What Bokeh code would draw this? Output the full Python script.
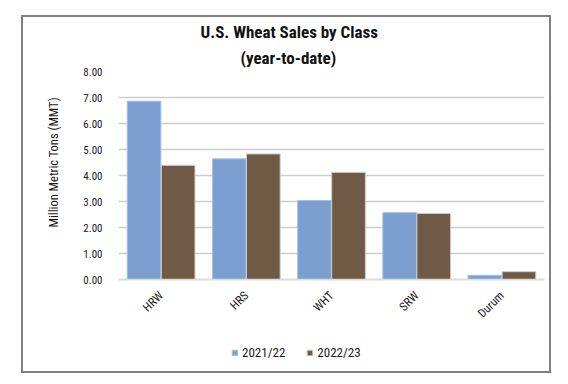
import math
from bokeh.plotting import figure
from bokeh.models import (ColumnDataSource, FactorRange, Legend, LegendItem,
                          FixedTicker, NumeralTickFormatter, Title, Range1d)
from bokeh.transform import dodge
from bokeh.embed import file_html
from bokeh.resources import INLINE

categories = ["HRW", "HRS", "WHT", "SRW", "Durum"]
sales_2021_22 = [6.86, 4.64, 3.04, 2.57, 0.16]
sales_2022_23 = [4.39, 4.83, 4.12, 2.54, 0.30]
series_names = ["2021/22", "2022/23"]
y_ticks = [0, 1, 2, 3, 4, 5, 6, 7, 8]
title_lines = ["U.S. Wheat Sales by Class", "(year-to-date)"]
y_label = "Million Metric Tons (MMT)"

FONT = "'Roboto Condensed', 'Liberation Sans Narrow', 'DejaVu Sans Condensed', Roboto, sans-serif"
BLUE = "#7a9fd0"
BROWN = "#6e5a45"
TXT = "#1a1a1a"

source = ColumnDataSource(dict(cat=categories, a=sales_2021_22, b=sales_2022_23))

# frame extends below zero so the category labels and legend sit inside it
p = figure(width=530, height=358, x_range=FactorRange(*categories, range_padding=0),
           y_range=Range1d(-3.615, 8), output_backend="svg", toolbar_location=None,
           min_border_left=95, min_border_right=9, min_border_top=54,
           min_border_bottom=2, title=None)
p.margin = (15, 0, 0, 21)
p.styles = {"border": "2px solid #808080"}
p.outline_line_color = None
p.background_fill_color = "white"
p.border_fill_color = "white"

r1 = p.vbar(x=dodge("cat", -0.2, range=p.x_range), top="a", width=0.395, source=source,
            fill_color=BLUE, line_color="#a8c0e2", line_width=1)
r2 = p.vbar(x=dodge("cat", 0.2, range=p.x_range), top="b", width=0.395, source=source,
            fill_color=BROWN, line_color="#cfcac4", line_width=1)

p.yaxis.ticker = FixedTicker(ticks=y_ticks)
p.yaxis.formatter = NumeralTickFormatter(format="0.00")
p.yaxis.axis_line_color = None
p.yaxis.major_tick_line_color = None
p.yaxis.minor_tick_line_color = None
p.yaxis.major_label_standoff = 10
p.yaxis.major_label_text_font = FONT
p.yaxis.major_label_text_font_size = "11px"
p.yaxis.major_label_text_color = TXT

p.xaxis.fixed_location = 0
p.xaxis.axis_line_color = "#dcdcdc"
p.xaxis.axis_line_width = 1.5
p.xaxis.major_tick_line_color = None
p.xaxis.minor_tick_line_color = None
p.xaxis.major_label_orientation = math.pi / 4
p.xaxis.major_label_standoff = 8
p.xaxis.major_label_text_font = FONT
p.xaxis.major_label_text_font_size = "12px"
p.xaxis.major_label_text_color = TXT

p.xgrid.grid_line_color = None
p.ygrid.grid_line_color = "#cdcdcd"
p.ygrid.grid_line_width = 1.5

# chart title (two lines)
t2 = Title(text=title_lines[1], align="left", offset=122, standoff=8,
           text_font=FONT, text_font_size="17px", text_font_style="bold", text_color="#111111")
t1 = Title(text=title_lines[0], align="left", offset=82, standoff=0,
           text_font=FONT, text_font_size="17px", text_font_style="bold", text_color="#111111")
p.add_layout(t2, "above")
p.add_layout(t1, "above")

# y axis title
ty = Title(text=y_label, align="left", offset=146, standoff=40,
           text_font=FONT, text_font_size="12.5px", text_font_style="normal",
           text_color=TXT)
p.add_layout(ty, "left")

legend = Legend(items=[LegendItem(label=series_names[0], renderers=[r1]),
                       LegendItem(label=series_names[1], renderers=[r2])],
                location=(113, 13), orientation="horizontal",
                glyph_width=7, glyph_height=7, label_standoff=4, spacing=21,
                padding=0, margin=0, border_line_color=None,
                background_fill_alpha=0, label_text_font=FONT,
                label_text_font_size="13px", label_height=16,
                label_text_color=TXT)
p.add_layout(legend, "center")

open("out.html", "w").write(file_html(p, INLINE))
